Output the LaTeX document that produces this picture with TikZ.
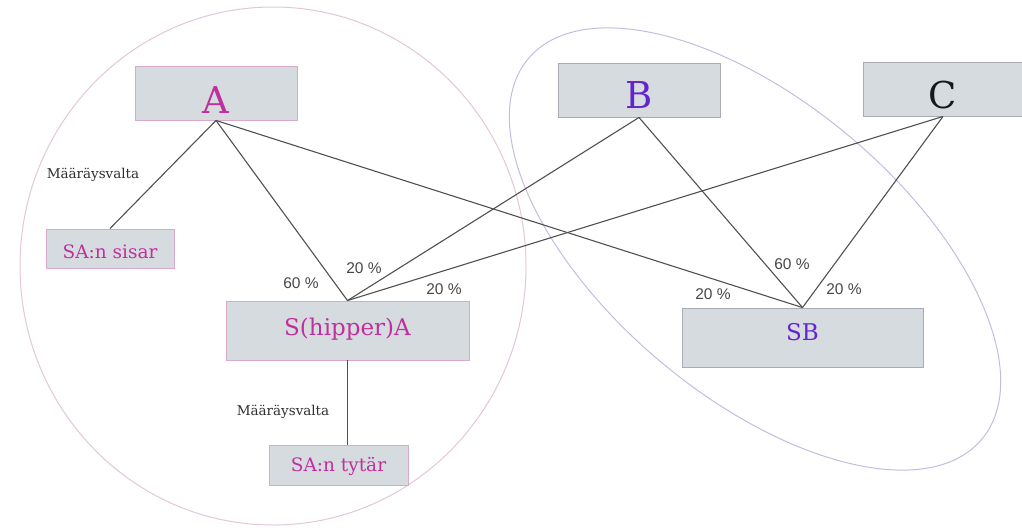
\documentclass[tikz,border=0pt]{standalone}
\usepackage{fontspec}
\setmainfont{DejaVu Serif}
\newfontfamily\labfont{Liberation Sans}
\definecolor{boxfill}{HTML}{D6DBE0}
\definecolor{pinkedge}{HTML}{D9A9CC}
\definecolor{grayedge}{HTML}{A9AAB8}
\definecolor{magtext}{HTML}{C0309C}
\definecolor{viotext}{HTML}{6424CC}
\definecolor{lineg}{HTML}{505050}
\definecolor{pinkell}{HTML}{E2C6DA}
\definecolor{lavell}{HTML}{C4BCE0}
\begin{document}
\begin{tikzpicture}[x=1pt,y=-1pt,
  box/.style={draw=#1, fill=boxfill, line width=0.9pt, rectangle, inner sep=0pt},
  conn/.style={draw=lineg, line width=1.1pt},
  pct/.style={font=\labfont\fontsize{15.5}{17}\selectfont, text=black!72, inner sep=0pt},
  mv/.style={font=\fontsize{13.5}{15}\selectfont, text=black!82, inner sep=0pt}]
\useasboundingbox (0,0) rectangle (1022,530);
% groups
\draw[pinkell, line width=1pt] (273,266) ellipse [x radius=253pt, y radius=259pt];
\draw[lavell, line width=1pt, rotate around={-40:(755,249)}] (755,249) ellipse [x radius=296pt, y radius=147pt];
% boxes
\node[box=pinkedge, minimum width=162pt, minimum height=54pt, text=magtext,
  font=\fontsize{37}{40}\selectfont, text height=40pt, text depth=0pt] (A) at (216,93) {A};
\node[box=grayedge, minimum width=162pt, minimum height=54pt, text=viotext,
  font=\fontsize{37}{40}\selectfont, text height=37pt, text depth=0pt] (B) at (639,90) {B};
\node[box=grayedge, minimum width=160pt, minimum height=54pt, text=black!90,
  font=\fontsize{37}{40}\selectfont, text height=39pt, text depth=0pt] (C) at (943,89) {C};
\node[box=pinkedge, minimum width=128pt, minimum height=39pt, text=magtext,
  font=\fontsize{18.5}{20}\selectfont, text height=19.5pt, text depth=0pt] (sisar) at (110,248.5) {SA:n sisar};
\node[box=pinkedge, minimum width=243pt, minimum height=59pt, text=magtext,
  font=\fontsize{23}{25}\selectfont, text height=17pt, text depth=8pt] (SA) at (347.5,330.5) {S(hipper)A};
\node[box=pinkedge, minimum width=139pt, minimum height=40pt, text=magtext,
  font=\fontsize{18.5}{20}\selectfont, text height=13.5pt, text depth=0pt] (tytar) at (338.5,465) {SA:n tytär};
\node[box=grayedge, minimum width=241pt, minimum height=59pt, text=viotext,
  font=\fontsize{23}{25}\selectfont, text height=11pt, text depth=5pt] (SB) at (802.5,337.5) {SB};
% connectors
\draw[conn] (A.south) -- (sisar.north);
\draw[conn] (A.south) -- (SA.north);
\draw[conn] (A.south) -- (SB.north);
\draw[conn] (B.south) -- (SA.north);
\draw[conn] (B.south) -- (SB.north);
\draw[conn] (C.south) -- (SA.north);
\draw[conn] (C.south) -- (SB.north);
\draw[conn] (SA.south) -- (SA.south |- tytar.north);
% labels
\node[mv] (mv1) at (93,175) {Määräysvalta};
\node[mv] (mv2) at (283,412) {Määräysvalta};
\node[pct] (p1) at (301,283) {60 \%};
\node[pct] (p2) at (364,268) {20 \%};
\node[pct] (p3) at (444,289) {20 \%};
\node[pct] (p4) at (792,264) {60 \%};
\node[pct] (p5) at (713,294) {20 \%};
\node[pct] (p6) at (844,289) {20 \%};
\end{tikzpicture}
\end{document}
